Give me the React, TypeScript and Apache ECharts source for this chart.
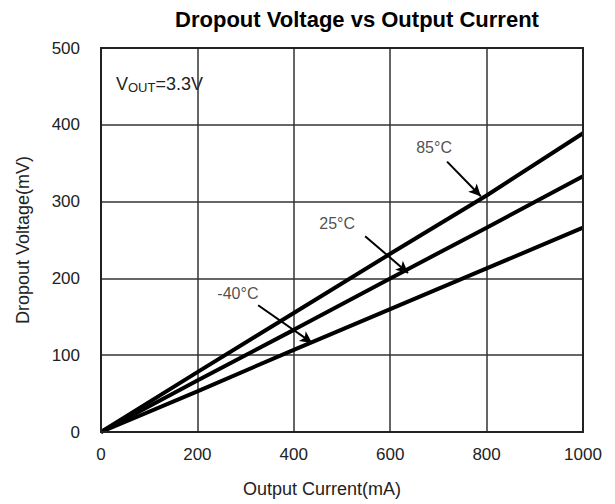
import React, { useEffect, useRef } from "react";
import * as echarts from "echarts";

const currents = [0, 200, 400, 600, 800, 1000];
const v85 = [0, 78, 155, 232, 308, 389];
const v25 = [0, 67, 133, 200, 266, 333];
const vm40 = [0, 53, 107, 160, 213, 266];

const xTicks = [0, 200, 400, 600, 800, 1000];
const yTicks = [0, 100, 200, 300, 400, 500];

const labels = [
  { text: "85°C", pos: [691, 371], from: [718, 352], to: [788, 307] },
  { text: "25°C", pos: [490, 272], from: [548, 255], to: [637, 207] },
  { text: "-40°C", pos: [284, 180], from: [326, 165], to: [438, 116] },
];

const FONT = "Liberation Sans, Arial, sans-serif";

export default function App() {
  const ref = useRef<HTMLDivElement>(null);
  useEffect(() => {
    document.body.style.margin = "0";
    const chart = echarts.init(ref.current!, undefined, { renderer: "svg" });
    const mk = (name: string, vals: number[]) => ({
      name,
      type: "line",
      data: currents.map((c, i) => [c, vals[i]]),
      symbol: "none",
      lineStyle: { color: "#000", width: 4 },
      z: 3,
    });
    chart.setOption({
      animation: false,
      backgroundColor: "#fff",
      title: {
        text: "Dropout Voltage vs Output Current",
        left: 352,
        textAlign: "center",
        top: 3,
        textStyle: { fontFamily: FONT, fontSize: 22, fontWeight: "bold", color: "#000" },
      },
      grid: { left: 101, right: 32, top: 48, bottom: 72 },
      xAxis: {
        type: "value",
        min: 0,
        max: 1000,
        interval: 200,
        name: "Output Current(mA)",
        nameLocation: "middle",
        nameGap: 48,
        nameTextStyle: { fontFamily: FONT, fontSize: 18, color: "#222", padding: [0, 40, 0, 0] },
        axisLine: { show: true, lineStyle: { color: "#222", width: 2 } },
        axisTick: { show: false },
        axisLabel: {
          fontFamily: FONT,
          fontSize: 17,
          color: "#222",
          margin: 14,
          formatter: (v: number) => (xTicks.includes(v) ? String(v) : ""),
        },
        splitLine: { show: true, lineStyle: { color: "#333", width: 1.5 } },
      },
      yAxis: {
        type: "value",
        min: 0,
        max: 500,
        interval: 100,
        name: "Dropout Voltage(mV)",
        nameLocation: "middle",
        nameGap: 69,
        nameRotate: 90,
        nameTextStyle: { fontFamily: FONT, fontSize: 18, color: "#222" },
        axisLine: { show: true, lineStyle: { color: "#222", width: 2 } },
        axisTick: { show: false },
        axisLabel: {
          fontFamily: FONT,
          fontSize: 17,
          color: "#222",
          margin: 21,
          formatter: (v: number) => (yTicks.includes(v) ? String(v) : ""),
        },
        splitLine: { show: true, lineStyle: { color: "#333", width: 1.5 } },
      },
      graphic: [
        {
          type: "rect",
          shape: { x: 101, y: 48, width: 482, height: 384 },
          style: { fill: "none", stroke: "#222", lineWidth: 2 },
          z: 10,
        },
        {
          type: "text",
          left: 116,
          top: 75,
          style: {
            text: "{v|V}{s|OUT}{v|=3.3V}",
            rich: {
              v: { fontFamily: FONT, fontSize: 18, fill: "#222" },
              s: { fontFamily: FONT, fontSize: 13, fill: "#222", verticalAlign: "bottom", padding: [7, 0, 0, 0] },
            },
          },
        },
      ],
      series: [
        mk("85°C", v85),
        mk("25°C", v25),
        mk("-40°C", vm40),
        {
          type: "scatter",
          data: labels.map((l) => ({ value: l.pos, label: { formatter: l.text } })),
          symbolSize: 0,
          label: {
            show: true,
            position: "inside",
            fontFamily: FONT,
            fontSize: 16,
            color: "#222",
          },
          silent: true,
          z: 5,
        },
        {
          type: "line",
          data: [],
          markLine: {
            silent: true,
            symbol: ["none", "arrow"],
            symbolSize: [9, 12],
            label: { show: false },
            lineStyle: { color: "#000", width: 2, type: "solid" },
            data: labels.map((l) => [{ coord: l.from }, { coord: l.to }]),
          },
        },
      ],
    });
    return () => chart.dispose();
  }, []);
  return <div ref={ref} style={{ width: 615, height: 504 }} />;
}
